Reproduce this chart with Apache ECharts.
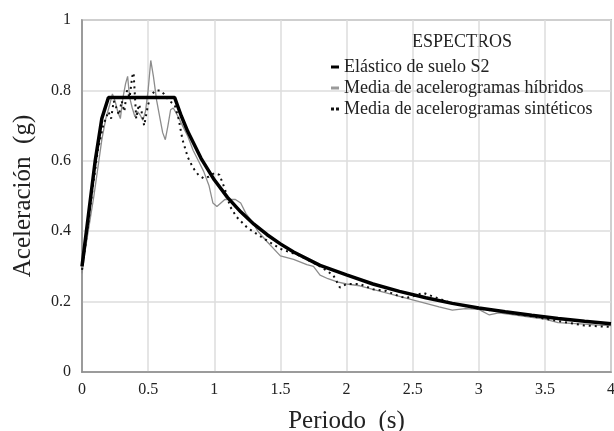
<!DOCTYPE html>
<html><head><meta charset="utf-8">
<script src="https://cdn.jsdelivr.net/npm/echarts@6/dist/echarts.min.js"></script>
<style>html,body{margin:0;padding:0;background:#fff}#c{width:614px;height:431px}</style>
</head><body><div id="c"></div>
<script>
const xTicks = [0, 0.5, 1, 1.5, 2, 2.5, 3, 3.5, 4];
const yTicks = [0, 0.2, 0.4, 0.6, 0.8, 1];

const elasticT = [0, 0.05, 0.10, 0.15, 0.20, 0.70, 0.75, 0.8, 0.9, 1.0, 1.1, 1.2, 1.3, 1.4, 1.5, 1.6, 1.8, 2.0, 2.2, 2.4, 2.6, 2.8, 3.0, 3.2, 3.4, 3.6, 3.8, 4.0];
const elasticA = [0.30, 0.45, 0.60, 0.72, 0.78, 0.78, 0.728, 0.683, 0.607, 0.546, 0.496, 0.455, 0.42, 0.39, 0.364, 0.341, 0.303, 0.276, 0.250, 0.229, 0.211, 0.195, 0.182, 0.171, 0.161, 0.152, 0.144, 0.137];

const hybridT = [0, 0.03, 0.06, 0.09, 0.12, 0.15, 0.18, 0.21, 0.23, 0.25, 0.27, 0.29, 0.31, 0.33, 0.345, 0.36, 0.38, 0.40, 0.42, 0.44, 0.46, 0.48, 0.50, 0.52, 0.54, 0.565, 0.59, 0.61, 0.63, 0.65, 0.67, 0.69, 0.72, 0.76, 0.80, 0.84, 0.88, 0.92, 0.96, 0.99, 1.02, 1.05, 1.08, 1.12, 1.16, 1.2, 1.24, 1.28, 1.33, 1.4, 1.5, 1.6, 1.7, 1.75, 1.8, 1.86, 1.93, 2.0, 2.1, 2.2, 2.3, 2.4, 2.5, 2.6, 2.7, 2.8, 2.9, 3.0, 3.08, 3.15, 3.25, 3.4, 3.5, 3.6, 3.7, 3.8, 3.9, 4.0];
const hybridA = [0.28, 0.36, 0.43, 0.50, 0.58, 0.66, 0.72, 0.76, 0.79, 0.77, 0.74, 0.72, 0.78, 0.82, 0.84, 0.78, 0.75, 0.725, 0.74, 0.73, 0.715, 0.74, 0.80, 0.885, 0.84, 0.77, 0.72, 0.68, 0.66, 0.70, 0.745, 0.75, 0.73, 0.70, 0.67, 0.63, 0.60, 0.57, 0.53, 0.48, 0.47, 0.48, 0.49, 0.49, 0.49, 0.48, 0.45, 0.43, 0.40, 0.37, 0.33, 0.32, 0.305, 0.30, 0.275, 0.265, 0.256, 0.25, 0.245, 0.235, 0.225, 0.215, 0.205, 0.195, 0.185, 0.176, 0.18, 0.178, 0.162, 0.168, 0.163, 0.155, 0.15, 0.14, 0.138, 0.136, 0.133, 0.132];

const synthT = [0, 0.04, 0.08, 0.12, 0.16, 0.2, 0.22, 0.24, 0.26, 0.28, 0.30, 0.32, 0.34, 0.36, 0.38, 0.39, 0.41, 0.43, 0.45, 0.47, 0.50, 0.53, 0.56, 0.59, 0.62, 0.66, 0.70, 0.73, 0.76, 0.80, 0.84, 0.88, 0.92, 0.96, 1.0, 1.04, 1.08, 1.12, 1.17, 1.25, 1.35, 1.5, 1.65, 1.8, 1.9, 1.95, 2.0, 2.1, 2.2, 2.3, 2.4, 2.45, 2.5, 2.58, 2.65, 2.8, 3.0, 3.2, 3.4, 3.6, 3.8, 4.0];
const synthA = [0.29, 0.40, 0.52, 0.63, 0.70, 0.74, 0.72, 0.77, 0.75, 0.73, 0.77, 0.74, 0.80, 0.78, 0.84, 0.85, 0.72, 0.76, 0.74, 0.70, 0.76, 0.79, 0.80, 0.80, 0.79, 0.77, 0.76, 0.72, 0.66, 0.61, 0.58, 0.56, 0.55, 0.555, 0.565, 0.56, 0.52, 0.47, 0.44, 0.41, 0.385, 0.35, 0.33, 0.30, 0.275, 0.24, 0.25, 0.25, 0.235, 0.23, 0.215, 0.21, 0.215, 0.225, 0.215, 0.195, 0.18, 0.17, 0.158, 0.145, 0.132, 0.128];

const legendTitle = 'ESPECTROS';
const seriesNames = ['Elástico de suelo S2', 'Media de acelerogramas híbridos', 'Media de acelerogramas sintéticos'];
const xTitle = 'Periodo  (s)';
const yTitle = 'Aceleración  (g)';

const zip = (a, b) => a.map((t, i) => [t, b[i]]);
const serif = "'Liberation Serif', 'Times New Roman', serif";

const chart = echarts.init(document.getElementById('c'), null, {renderer: 'canvas'});
chart.setOption({
  animation: false,
  backgroundColor: '#fff',
  grid: {left: 82, right: 3, top: 20, bottom: 59, show: true, borderColor: '#8a8a8a', borderWidth: 1.5,
    containLabel: false, outerBoundsMode: 'none'},
  graphic: [
    {type: 'text', left: 412, top: 33, style: {text: legendTitle, font: '18px ' + serif, fill: '#222'}}
  ],
  legend: {
    orient: 'vertical', left: 326, top: 53, itemGap: 3, itemWidth: 8, itemHeight: 3,
    textStyle: {fontFamily: serif, fontSize: 18, color: '#222'},
    data: [
      {name: seriesNames[0], icon: 'rect', itemStyle: {color: '#000'}},
      {name: seriesNames[1], icon: 'rect', itemStyle: {color: '#9a9a9a'}},
      {name: seriesNames[2], icon: 'path://M0,0H3V3H0Z M5,0H8V3H5Z', itemStyle: {color: '#111'}}
    ]
  },
  xAxis: {
    type: 'value', min: 0, max: 4, interval: 0.5,
    name: xTitle, nameLocation: 'middle', nameGap: 37,
    nameTextStyle: {fontFamily: serif, fontSize: 25, color: '#222'},
    axisLine: {lineStyle: {color: '#8a8a8a', width: 1.5}},
    axisTick: {show: false},
    axisLabel: {fontFamily: serif, fontSize: 16, color: '#222', margin: 10, formatter: v => String(v)},
    splitLine: {lineStyle: {color: '#dcdcdc', width: 1.5}}
  },
  yAxis: {
    type: 'value', min: 0, max: 1, interval: 0.2,
    name: yTitle, nameLocation: 'middle', nameGap: 46, nameRotate: 90,
    nameTextStyle: {fontFamily: serif, fontSize: 25, color: '#222'},
    axisLine: {show: true, lineStyle: {color: '#8a8a8a', width: 1.5}},
    axisTick: {show: false},
    axisLabel: {fontFamily: serif, fontSize: 16, color: '#222', margin: 11, formatter: v => String(+v.toFixed(1))},
    splitLine: {lineStyle: {color: '#dcdcdc', width: 1.5}}
  },
  series: [
    {name: seriesNames[0], type: 'line', data: zip(elasticT, elasticA), showSymbol: false, symbol: 'none', z: 4,
      lineStyle: {color: '#000', width: 3.5}, itemStyle: {color: '#000'}},
    {name: seriesNames[1], type: 'line', data: zip(hybridT, hybridA), showSymbol: false, symbol: 'none', z: 2,
      lineStyle: {color: '#8c8c8c', width: 1.3}, itemStyle: {color: '#8c8c8c'}},
    {name: seriesNames[2], type: 'line', data: zip(synthT, synthA), showSymbol: false, symbol: 'none', z: 3,
      lineStyle: {color: '#111', width: 2, type: [2, 4]}, itemStyle: {color: '#111'}}
  ]
});
</script></body></html>
